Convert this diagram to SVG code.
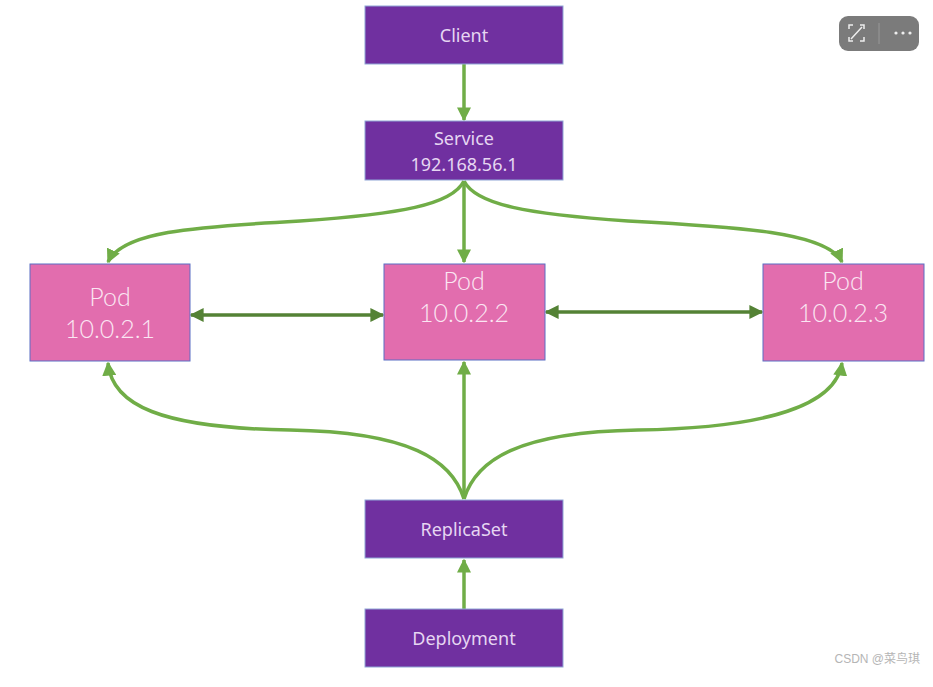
<svg xmlns="http://www.w3.org/2000/svg" width="933" height="687" viewBox="0 0 933 687">
<defs>
<style>
.box{fill:#7030a0;stroke:#8fa6d6;stroke-width:1}
.pod{fill:#e26dae;stroke:#5b6fc4;stroke-width:1}
.t{font-family:"Noto Sans","Liberation Sans",sans-serif;font-size:18px;fill:#e6d6f2;text-anchor:middle}
.pt{font-family:Lato,"Liberation Sans",sans-serif;font-weight:300;font-size:25px;fill:#fbe6f3;text-anchor:middle}
.c{fill:none;stroke:#70ad47;stroke-width:3.5}
.d{fill:none;stroke:#548235;stroke-width:3.5}
</style>
<marker id="a" viewBox="0 0 10 10" refX="9" refY="5" markerWidth="4" markerHeight="4" orient="auto-start-reverse" markerUnits="strokeWidth"><path d="M0,0 L10,5 L0,10 Z" fill="#70ad47"/></marker>
<marker id="b" viewBox="0 0 10 10" refX="9" refY="5" markerWidth="4" markerHeight="4" orient="auto-start-reverse" markerUnits="strokeWidth"><path d="M0,0 L10,5 L0,10 Z" fill="#548235"/></marker>
</defs>
<rect width="933" height="687" fill="#ffffff"/>
<g id="connectors">
<path class="c" d="M464,64 L464,120" marker-end="url(#a)"/>
<path class="c" d="M464,181 L464,262" marker-end="url(#a)"/>
<path class="c" d="M464,181 C452,205 400,214 300,221 C190,227 122,232 108,262" marker-end="url(#a)"/>
<path class="c" d="M464,181 C476,205 528,214 628,221 C738,227 828,232 842,262" marker-end="url(#a)"/>
<path class="c" d="M464,499 L464,362" marker-end="url(#a)"/>
<path class="c" d="M464,499 C452,460 410,432 290,430 C160,428 112,405 108,363" marker-end="url(#a)"/>
<path class="c" d="M464,499 C476,460 518,432 638,430 C768,428 836,405 842,363" marker-end="url(#a)"/>
<path class="c" d="M464,609 L464,560" marker-end="url(#a)"/>
<path class="d" d="M191,315 L383,315" marker-start="url(#b)" marker-end="url(#b)"/>
<path class="d" d="M546,312 L762,312" marker-start="url(#b)" marker-end="url(#b)"/>
</g>
<g id="client"><rect class="box" x="365" y="6" width="198" height="58"/><text class="t" x="464" y="42">Client</text></g>
<g id="service"><rect class="box" x="365" y="121" width="198" height="59"/><text class="t" x="464" y="145">Service</text><text class="t" x="464" y="171">192.168.56.1</text></g>
<g id="pod1"><rect class="pod" x="30" y="264" width="160" height="97"/><text class="pt" x="110" y="306">Pod</text><text class="pt" x="110" y="338">10.0.2.1</text></g>
<g id="pod2"><rect class="pod" x="384" y="264" width="161" height="96"/><text class="pt" x="464" y="290">Pod</text><text class="pt" x="464" y="322">10.0.2.2</text></g>
<g id="pod3"><rect class="pod" x="763" y="264" width="161" height="97"/><text class="pt" x="843" y="290">Pod</text><text class="pt" x="843" y="322">10.0.2.3</text></g>
<g id="replicaset"><rect class="box" x="365" y="500" width="198" height="58"/><text class="t" x="464" y="536">ReplicaSet</text></g>
<g id="deployment"><rect class="box" x="365" y="609" width="198" height="58"/><text class="t" x="464" y="645">Deployment</text></g>
<g id="toolbar">
<rect x="839" y="16" width="80" height="35" rx="9" fill="#7b7b7b"/>
<line x1="879" y1="23" x2="879" y2="44" stroke="#999" stroke-width="1"/>
<path d="M849,29 v-4 h4 M860,25 h4 v4 M864,37 v4 h-4 M853,41 h-4 v-4 M851,39 L862,27" fill="none" stroke="#eee" stroke-width="1.5"/>
<circle cx="896" cy="33" r="1.6" fill="#eee"/><circle cx="903" cy="33" r="1.6" fill="#eee"/><circle cx="910" cy="33" r="1.6" fill="#eee"/>
</g>
<text x="920" y="663" text-anchor="end" font-family="'Liberation Sans','Noto Sans CJK SC',sans-serif" font-size="12" fill="#b5b5b5">CSDN @菜鸟琪</text>
</svg>
